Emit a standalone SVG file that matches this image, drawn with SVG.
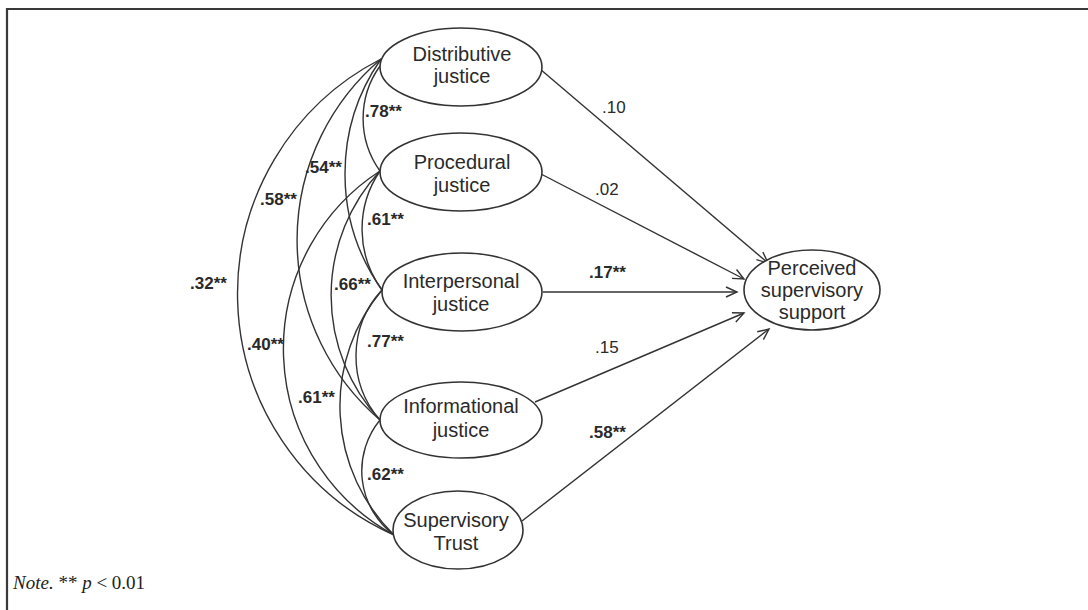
<svg xmlns="http://www.w3.org/2000/svg" width="1088" height="610" viewBox="0 0 1088 610">
<style>
.frame{stroke:#3a3a3a;stroke-width:2.2;fill:none}
.node ellipse{fill:#fff;stroke:#333;stroke-width:1.6}
.node text{font-family:"Liberation Sans",Arial,sans-serif;font-size:20px;fill:#2a2a2a;text-anchor:middle}
.arc{fill:none;stroke:#333;stroke-width:1.4}
.arr{fill:none;stroke:#333;stroke-width:1.4;marker-end:url(#ah)}
.lb{font-family:"Liberation Sans",Arial,sans-serif;font-size:17px;fill:#2a2a2a}
.b{font-weight:bold}
.note{font-family:"Liberation Serif","Times New Roman",serif;font-size:19px;fill:#222}
</style>
<defs>
<marker id="ah" markerWidth="14" markerHeight="12" refX="12" refY="6" orient="auto" markerUnits="userSpaceOnUse">
<path d="M1,1 L12,6 L1,11" fill="none" stroke="#333" stroke-width="1.4"/>
</marker>
</defs>
<rect width="1088" height="610" fill="#fff"/>
<g id="frame">
<path class="frame" d="M7,610 L7,9 L1088,9"/>
</g>
<g id="connectors">
<path class="arc" d="M380,66 A90,90 0 0,0 380,171"/>
<path class="arc" d="M380,171 A103,103 0 0,0 382,290"/>
<path class="arc" d="M382,290 A97,97 0 0,0 380,420"/>
<path class="arc" d="M380,420 A80,80 0 0,0 394,535"/>
<path class="arc" d="M381,59 A201,201 0 0,0 382,290"/>
<path class="arc" d="M380,171 A183,183 0 0,0 380,420"/>
<path class="arc" d="M382,290 A181,181 0 0,0 394,535"/>
<path class="arc" d="M381,59 A237,237 0 0,0 380,420"/>
<path class="arc" d="M380,171 A212,212 0 0,0 394,535"/>
<path class="arc" d="M381,59 A264,264 0 0,0 394,535"/>
<path class="arr" d="M540,69 L768,263"/>
<path class="arr" d="M541,174 L744,279"/>
<path class="arr" d="M543,292 L737,292"/>
<path class="arr" d="M535,402 L744,313"/>
<path class="arr" d="M522,521 L769,329"/>
</g>
<g id="labels">
<text class="lb b" x="365" y="117">.78**</text>
<text class="lb b" x="305" y="173">.54**</text>
<text class="lb b" x="260" y="205">.58**</text>
<text class="lb b" x="367" y="225">.61**</text>
<text class="lb b" x="334" y="290">.66**</text>
<text class="lb b" x="190" y="289">.32**</text>
<text class="lb b" x="247" y="350">.40**</text>
<text class="lb b" x="367" y="347">.77**</text>
<text class="lb b" x="298" y="403">.61**</text>
<text class="lb b" x="367" y="480">.62**</text>
<text class="lb" x="602" y="113">.10</text>
<text class="lb" x="595" y="195">.02</text>
<text class="lb b" x="589" y="278">.17**</text>
<text class="lb" x="595" y="353">.15</text>
<text class="lb b" x="589" y="438">.58**</text>
</g>
<g id="node-distributive" class="node">
<ellipse cx="461" cy="67" rx="81" ry="39"/>
<text x="462" y="61">Distributive</text>
<text x="462" y="83">justice</text>
</g>
<g id="node-procedural" class="node">
<ellipse cx="461" cy="172" rx="81" ry="39"/>
<text x="462" y="169">Procedural</text>
<text x="462" y="192">justice</text>
</g>
<g id="node-interpersonal" class="node">
<ellipse cx="462" cy="292" rx="80" ry="39"/>
<text x="461" y="288">Interpersonal</text>
<text x="461" y="311">justice</text>
</g>
<g id="node-informational" class="node">
<ellipse cx="461" cy="420" rx="81" ry="38"/>
<text x="461" y="413">Informational</text>
<text x="461" y="437">justice</text>
</g>
<g id="node-trust" class="node">
<ellipse cx="458" cy="530" rx="65" ry="39"/>
<text x="456" y="527">Supervisory</text>
<text x="456" y="550">Trust</text>
</g>
<g id="node-pss" class="node">
<ellipse cx="812" cy="290" rx="68" ry="40"/>
<text x="812" y="275">Perceived</text>
<text x="812" y="297">supervisory</text>
<text x="812" y="319">support</text>
</g>
<text class="note" x="13" y="589"><tspan font-style="italic">Note.</tspan> ** <tspan font-style="italic">p</tspan> &lt; 0.01</text>
</svg>
